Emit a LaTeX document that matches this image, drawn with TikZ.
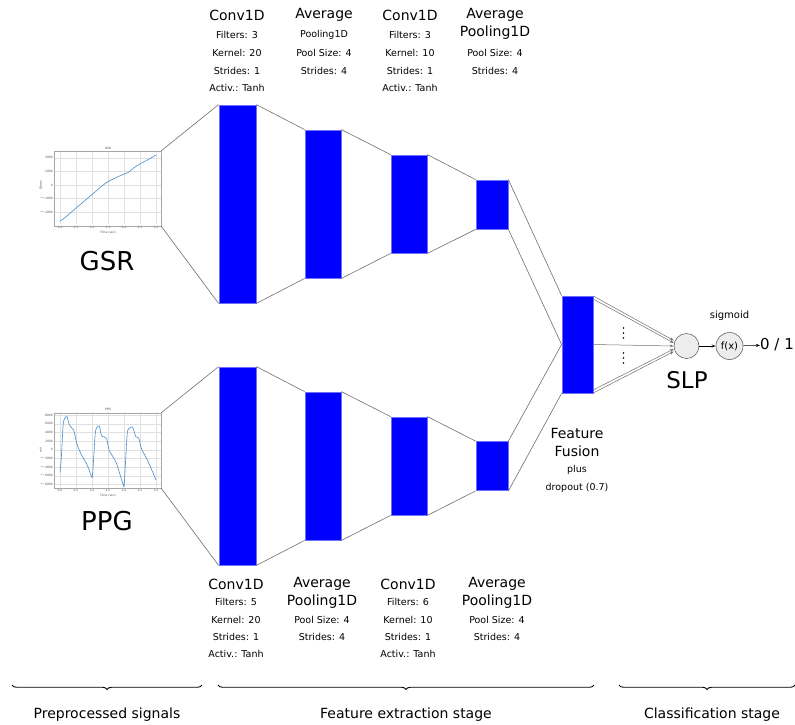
\documentclass[tikz,border=0pt]{standalone}
\usepackage{fontspec}
\setmainfont{DejaVu Sans}
\usetikzlibrary{arrows.meta,decorations.pathreplacing}
\definecolor{mplblue}{RGB}{70,140,200}
\definecolor{blkedge}{RGB}{110,110,255}
\definecolor{conn}{RGB}{110,110,110}
\tikzset{
  blk/.style={draw=blkedge, line width=0.8pt, fill={rgb,255:red,0;green,0;blue,255}, inner sep=0pt},
  link/.style={draw=conn, line width=0.6pt},
  big/.style={font=\fontsize{14}{16}\selectfont, inner sep=0pt},
  small/.style={font=\fontsize{9.5}{10}\selectfont, inner sep=0pt},
  huge/.style={font=\fontsize{26}{28}\selectfont, inner sep=0pt},
  stage/.style={font=\fontsize{14}{16}\selectfont, inner sep=0pt},
  tiny/.style={font=\fontsize{3}{3.5}\selectfont, inner sep=0pt, text=black!70},
  frame/.style={draw=black!35, line width=0.4pt, inner sep=0pt, fill=white},
  grid/.style={draw=black!12, line width=0.3pt},
  curve/.style={draw=mplblue, line width=0.6pt},
  neur/.style={circle, draw=black!70, fill=black!7, line width=0.5pt, inner sep=0pt},
  inarr/.style={draw=conn, line width=0.5pt, -{Stealth[open,length=4pt,width=3pt]}},
  bracestyle/.style={decorate, decoration={brace, amplitude=4.5pt, mirror}, line width=0.9pt},
}
\begin{document}
\begin{tikzpicture}[x=1pt,y=-1pt]
\useasboundingbox (0,0) rectangle (795,724);

% ---------- GSR plot ----------
\node[frame, minimum width=107pt, minimum height=75pt] (gp) at (107.5,188.5) {};
\begin{scope}[shift={(60,185)}, x=32pt, y=0.0136pt]
  \foreach \t in {0,0.5,...,3.0} \draw[grid] (\t,-2900) -- (\t,2500);
  \foreach \v in {-2000,-1000,0,1000,2000} \draw[grid] (-0.19,\v) -- (3.16,\v);
  \foreach \t/\l in {0/0.0,0.5/0.5,1/1.0,1.5/1.5,2/2.0,2.5/2.5,3/3.0}
    \node[tiny] at (\t,-3100) {\l};
  \foreach \v/\l in {-2000/$-$2000,-1000/$-$1000,0/0,1000/1000,2000/2000}
    \node[tiny, anchor=east] at (-0.22,\v) {\l};
  \draw[curve] plot[smooth, tension=0.5] coordinates {(0,-2650) (0.1,-2500) (0.5,-1700) (1.0,-700) (1.2,-300) (1.35,0) (1.5,250) (1.8,600) (2.0,800) (2.15,950) (2.3,1250) (2.5,1550) (2.7,1800) (3.0,2200)};
  \node[tiny] at (1.5,2700) {GSR};
  \node[tiny] at (1.5,-3500) {Time (sec)};
  \node[tiny, rotate=90] at (-0.6,0) {Ohms};
\end{scope}
\draw[frame, fill=none] (gp.north west) rectangle (gp.south east);
\node[huge] (gsr) at (107,261) {GSR};

% ---------- PPG plot ----------
\node[frame, minimum width=107pt, minimum height=75pt] (pp) at (107.5,450.5) {};
\begin{scope}[shift={(60,449.7)}, x=32pt, y=0.00433pt]
  \foreach \t in {0,0.5,...,3.0} \draw[grid] (\t,-8700) -- (\t,8600);
  \foreach \v in {-8000,-6000,...,8000} \draw[grid] (-0.19,\v) -- (3.16,\v);
  \foreach \t/\l in {0/0.0,0.5/0.5,1/1.0,1.5/1.5,2/2.0,2.5/2.5,3/3.0}
    \node[tiny] at (\t,-9300) {\l};
  \foreach \v/\l in {-8000/$-$8000,-6000/$-$6000,-4000/$-$4000,-2000/$-$2000,0/0,2000/2000,4000/4000,6000/6000,8000/8000}
    \node[tiny, anchor=east] at (-0.22,\v) {\l};
  \draw[curve] plot[smooth, tension=0.45] coordinates {(0,-5200) (0.04,-2000) (0.1,5900) (0.16,7300) (0.22,7600) (0.29,5800) (0.37,5000) (0.43,4500) (0.53,1300) (0.66,-1000) (0.86,-3700) (0.98,-6100) (1.02,-5600) (1.1,3600) (1.16,5200) (1.23,5400) (1.3,3200) (1.38,3000) (1.46,2500) (1.54,-200) (1.75,-2900) (1.97,-7900) (2.01,-7600) (2.1,3600) (2.18,5000) (2.27,5200) (2.37,3000) (2.46,2700) (2.55,150) (2.74,-2500) (3.0,-7000)};
  \node[tiny] at (1.5,9200) {PPG};
  \node[tiny] at (1.5,-10600) {Time (sec)};
  \node[tiny, rotate=90] at (-0.6,0) {mV};
\end{scope}
\draw[frame, fill=none] (pp.north west) rectangle (pp.south east);
\node[huge] (ppg) at (107,521) {PPG};

% ---------- GSR branch ----------
\node[blk, minimum width=37pt, minimum height=198pt] (g1) at (237.5,204) {};
\node[blk, minimum width=36pt, minimum height=148pt] (g2) at (323,204) {};
\node[blk, minimum width=36pt, minimum height=98pt] (g3) at (409,204) {};
\node[blk, minimum width=32pt, minimum height=49pt] (g4) at (492,204.5) {};
% ---------- PPG branch ----------
\node[blk, minimum width=37pt, minimum height=198pt] (p1) at (237.5,466) {};
\node[blk, minimum width=36pt, minimum height=148pt] (p2) at (323,466) {};
\node[blk, minimum width=36pt, minimum height=98pt] (p3) at (409,466) {};
\node[blk, minimum width=32pt, minimum height=49pt] (p4) at (492,466) {};
% ---------- fusion ----------
\node[blk, minimum width=31pt, minimum height=97pt] (fu) at (577.5,344.5) {};

\draw[link] (gp.north east) -- (g1.north west) (gp.south east) -- (g1.south west);
\draw[link] (g1.north east) -- (g2.north west) (g1.south east) -- (g2.south west);
\draw[link] (g2.north east) -- (g3.north west) (g2.south east) -- (g3.south west);
\draw[link] (g3.north east) -- (g4.north west) (g3.south east) -- (g4.south west);
\draw[link] (pp.north east) -- (p1.north west) (pp.south east) -- (p1.south west);
\draw[link] (p1.north east) -- (p2.north west) (p1.south east) -- (p2.south west);
\draw[link] (p2.north east) -- (p3.north west) (p2.south east) -- (p3.south west);
\draw[link] (p3.north east) -- (p4.north west) (p3.south east) -- (p4.south west);
\draw[link] (g4.north east) -- (fu.north west) (g4.south east) -- (fu.west);
\draw[link] (p4.north east) -- (fu.west) (p4.south east) -- (fu.south west);

% ---------- SLP ----------
\node[neur, minimum size=25pt] (slp) at (686.5,346) {};
\node[neur, minimum size=27pt, font=\fontsize{10}{11}\selectfont] (fx) at (729.5,346) {f(x)};
\node[font=\fontsize{15}{16}\selectfont, inner sep=0pt] (out) at (777,345) {0 / 1};
\node[small, font=\fontsize{10}{11}\selectfont] (sig) at (729.5,316) {sigmoid};
\node[font=\fontsize{23}{25}\selectfont, inner sep=0pt] (slpl) at (687,380) {SLP};

\draw[inarr] ([yshift=-0.5pt]fu.north east) -- ([yshift=5.5pt]slp.west);
\draw[inarr] ([yshift=-3.5pt]fu.north east) -- ([yshift=3pt]slp.west);
\draw[inarr] (fu.east) -- (slp.west);
\draw[inarr] ([yshift=3.5pt]fu.south east) -- ([yshift=-3pt]slp.west);
\draw[inarr] ([yshift=0.5pt]fu.south east) -- ([yshift=-5.5pt]slp.west);
\draw[draw=black, line width=0.5pt, -{Stealth[open,length=4pt,width=3pt]}] (slp) -- (fx);
\draw[draw=black, line width=0.5pt, -{Stealth[length=4pt,width=3pt]}] (fx) -- (out);
\foreach \yy in {328,333,338,353,358,363} \fill (623.5,\yy) circle (0.8pt);

% ---------- top labels ----------
\node[big] (t1a) at (237,15) {Conv1D};
\node[small] (t1b) at (237,35) {Filters: 3};
\node[small] (t1c) at (237,53) {Kernel: 20};
\node[small] (t1d) at (237,71) {Strides: 1};
\node[small] (t1e) at (237,88) {Activ.: Tanh};
\node[big] (t2a) at (324,15) {Average};
\node[small] (t2b) at (324,35) {Pooling1D};
\node[small] (t2c) at (324,53) {Pool Size: 4};
\node[small] (t2d) at (324,71) {Strides: 4};
\node[big] (t3a) at (410,15) {Conv1D};
\node[small] (t3b) at (410,35) {Filters: 3};
\node[small] (t3c) at (410,53) {Kernel: 10};
\node[small] (t3d) at (410,71) {Strides: 1};
\node[small] (t3e) at (410,88) {Activ.: Tanh};
\node[big] (t4a) at (495,15) {Average};
\node[big] (t4b) at (495,33) {Pooling1D};
\node[small] (t4c) at (495,53) {Pool Size: 4};
\node[small] (t4d) at (495,71) {Strides: 4};

% ---------- bottom labels ----------
\node[big] (b1a) at (236,584) {Conv1D};
\node[small] (b1b) at (236,602) {Filters: 5};
\node[small] (b1c) at (236,620) {Kernel: 20};
\node[small] (b1d) at (236,637) {Strides: 1};
\node[small] (b1e) at (236,654) {Activ.: Tanh};
\node[big] (b2a) at (322,584) {Average};
\node[big] (b2b) at (322,602) {Pooling1D};
\node[small] (b2c) at (322,620) {Pool Size: 4};
\node[small] (b2d) at (322,637) {Strides: 4};
\node[big] (b3a) at (408,584) {Conv1D};
\node[small] (b3b) at (408,602) {Filters: 6};
\node[small] (b3c) at (408,620) {Kernel: 10};
\node[small] (b3d) at (408,637) {Strides: 1};
\node[small] (b3e) at (408,654) {Activ.: Tanh};
\node[big] (b4a) at (497,584) {Average};
\node[big] (b4b) at (497,602) {Pooling1D};
\node[small] (b4c) at (497,620) {Pool Size: 4};
\node[small] (b4d) at (497,637) {Strides: 4};

% ---------- fusion label ----------
\node[big] (ff1) at (577,433) {Feature};
\node[big] (ff2) at (577,451) {Fusion};
\node[small] (ff3) at (577,470) {plus};
\node[small] (ff4) at (577,488) {dropout (0.7)};

% ---------- stages ----------
\draw[bracestyle] (12,685) -- (202,685);
\draw[bracestyle] (218,685) -- (594,685);
\draw[bracestyle] (619,685) -- (795,685);
\node[stage] (s1) at (107,715) {Preprocessed signals};
\node[stage] (s2) at (406,715) {Feature extraction stage};
\node[stage] (s3) at (712,715) {Classification stage};
\end{tikzpicture}
\end{document}
